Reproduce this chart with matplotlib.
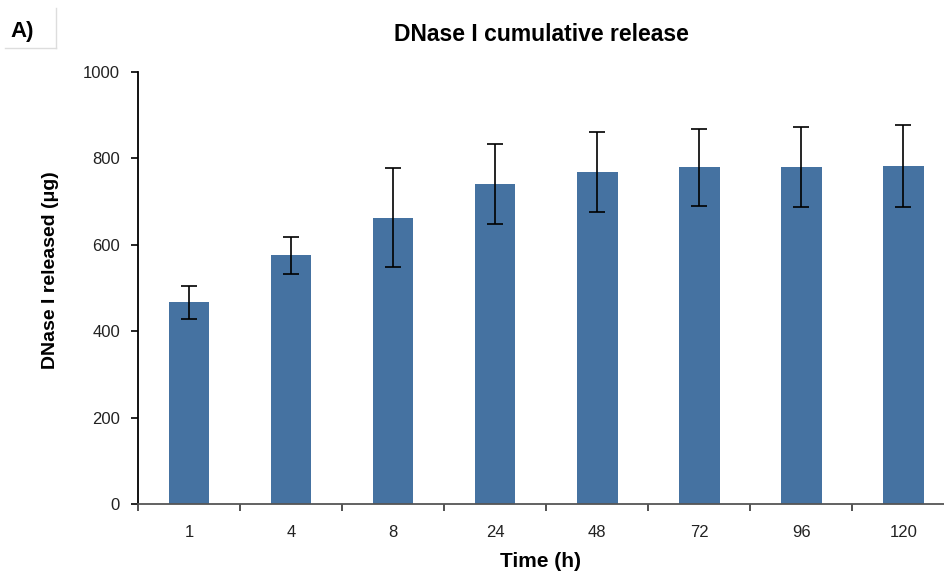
import matplotlib
matplotlib.use("Agg")
import matplotlib.pyplot as plt
import numpy as np

# cumulative DNase I release
times = ["1", "4", "8", "24", "48", "72", "96", "120"]
released = [467, 576, 663, 741, 768, 779, 780, 782]
err = [38, 43, 115, 92, 92, 90, 92, 95]

plt.rcParams['font.family'] = ['Liberation Sans', 'DejaVu Sans']

fig = plt.figure(figsize=(9.44, 5.71), dpi=100)
ax = fig.add_axes([138/944, 67/571, 806/944, 432/571])

x = np.arange(len(times))
ax.bar(x, released, width=0.4, color='#4572A1', zorder=2)
ax.errorbar(x, released, yerr=err, fmt='none', ecolor='black', elinewidth=1.2,
            capsize=5.5, capthick=1.2, zorder=3)

ax.set_xlim(-0.5, 7.4)
ax.set_ylim(0, 1000)
ax.set_yticks(np.arange(0, 1001, 200))
ax.set_xticks(x)
ax.set_xticklabels(times)
ax.set_xticks(np.arange(-0.5, 7.5, 1), minor=True)
ax.tick_params(axis='x', which='major', length=0, pad=15, labelsize=12, labelcolor='#222222')
ax.tick_params(axis='x', which='minor', length=5, width=1.2, color='#333333')
ax.tick_params(axis='y', length=5, width=1.2, pad=8, labelsize=12, labelcolor='#222222')

for s in ['top', 'right']:
    ax.spines[s].set_visible(False)
ax.spines['left'].set_linewidth(1.3)
ax.spines['bottom'].set_linewidth(1.3)
ax.spines['bottom'].set_color('#555555')

ax.set_title("DNase I cumulative release", fontsize=16.5, fontweight='bold', pad=22)
ax.set_ylabel("DNase I released (\u03bcg)", fontsize=14, fontweight='bold', va='center')
ax.yaxis.set_label_coords(-0.108, 0.542)
ax.set_xlabel("Time (h)", fontsize=15, fontweight='bold', va='center')
ax.xaxis.set_label_coords(0.5, -0.134)

# panel letter box
fig.text(10/944, 1 - 31/571, "A)", fontsize=16, fontweight='bold', va='center', ha='left')
fig.add_artist(plt.Line2D([56/944, 56/944], [1 - 8/571, 1 - 48/571], color='#dddddd', lw=1))
fig.add_artist(plt.Line2D([5/944, 56/944], [1 - 48/571, 1 - 48/571], color='#dddddd', lw=1))

fig.savefig("out.png", dpi=100)
